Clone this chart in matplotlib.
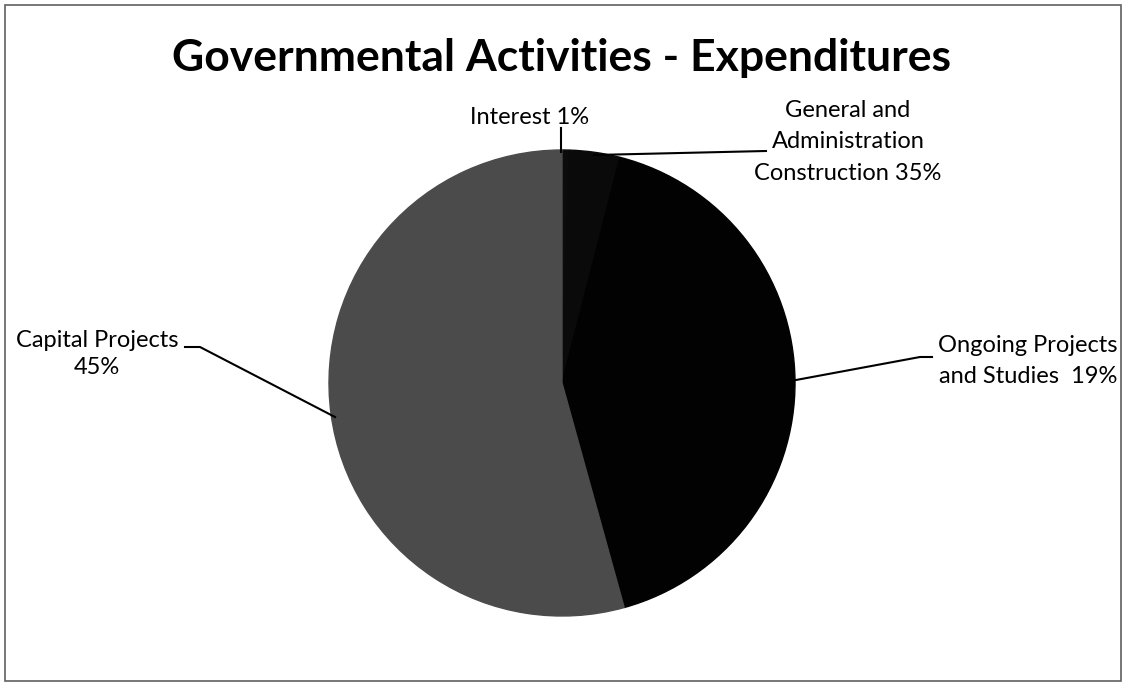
import matplotlib
matplotlib.use("Agg")
import matplotlib.pyplot as plt
from matplotlib.patches import Rectangle

# slice data, clockwise from 12 o'clock (shares as drawn in the picture)
labels = ["Interest", "General and Administration", "Ongoing Projects and Studies", "Capital Projects"]
shares = [0.5, 3.5, 41.7, 54.3]
colors = ["#0c0c0c", "#0a0a0a", "#020202", "#4b4b4b"]

W, H = 1126, 684
fig = plt.figure(figsize=(W / 100, H / 100), dpi=100)
fig.set_facecolor("white")
ax = fig.add_axes([0, 0, 1, 1])

# pixel-like coordinates, y up
cx, cy, r = 562, H - 383, 233
wedges, _ = ax.pie(shares, colors=colors, startangle=90, counterclock=False,
                   center=(cx, cy), radius=r)
for w, c in zip(wedges, colors):
    w.set_edgecolor(c)
    w.set_linewidth(1.0)
ax.set_xlim(0, W)
ax.set_ylim(0, H)
ax.set_aspect("equal")
ax.axis("off")

# outer frame
ax.add_patch(Rectangle((5, H - 681), 1116, 676, fill=False, ec="#606060", lw=1.2))

fam = ["Lato", "DejaVu Sans"]
ax.text(562, H - 58, "Governmental Activities - Expenditures", ha="center", va="center",
        fontsize=32, fontweight="bold", family=fam)

lbl = dict(fontsize=17, family=fam, color="black")

# Interest
ax.text(530, H - 117, "Interest 1%", ha="center", va="center", **lbl)
ax.plot([561, 561], [H - 128, H - 152], color="black", lw=1.5)

# General and Administration
ax.text(848, H - 142, "General and\nAdministration\nConstruction 35%", ha="center", va="center",
        linespacing=1.6, **lbl)
ax.plot([594, 766], [H - 155, H - 151], color="black", lw=1.5)

# Ongoing Projects
ax.text(1028, H - 361, "Ongoing Projects\nand Studies  19%", ha="center", va="center",
        linespacing=1.6, **lbl)
ax.plot([796, 920, 932], [H - 380, H - 357, H - 357], color="black", lw=1.5)

# Capital Projects
ax.text(97, H - 354, "Capital Projects\n45%", ha="center", va="center",
        linespacing=1.35, **lbl)
ax.plot([185, 200, 335], [H - 347, H - 347, H - 417], color="black", lw=1.5)

fig.savefig("out.png", dpi=100, facecolor="white")
